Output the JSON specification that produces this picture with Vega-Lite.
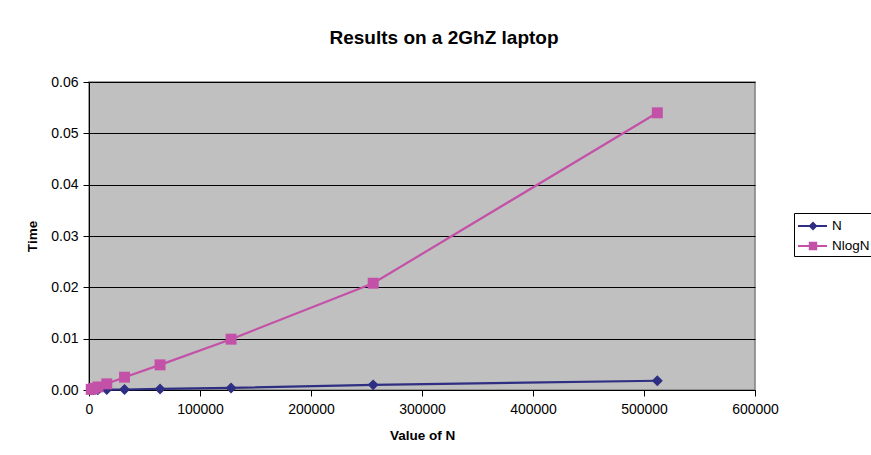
{
  "$schema": "https://vega.github.io/schema/vega-lite/v6.json",
  "width": 666,
  "height": 308,
  "autosize": {"type": "none"},
  "padding": {"left": 89, "top": 82, "right": 116, "bottom": 65},
  "background": "white",
  "title": {
    "text": "Results on a 2GhZ laptop",
    "font": "Liberation Sans",
    "fontSize": 19,
    "fontWeight": "bold",
    "color": "black",
    "anchor": "middle",
    "frame": "group",
    "dx": 22,
    "offset": 27
  },
  "data": {
    "values": [
      {"n": 2000, "series": "N", "time": 0.00002},
      {"n": 4000, "series": "N", "time": 0.00003},
      {"n": 8000, "series": "N", "time": 0.00005},
      {"n": 16000, "series": "N", "time": 0.00008},
      {"n": 32000, "series": "N", "time": 0.0001},
      {"n": 64000, "series": "N", "time": 0.0002},
      {"n": 128000, "series": "N", "time": 0.0004},
      {"n": 256000, "series": "N", "time": 0.001},
      {"n": 512000, "series": "N", "time": 0.0018},
      {"n": 2000, "series": "NlogN", "time": 0.00013},
      {"n": 4000, "series": "NlogN", "time": 0.0003},
      {"n": 8000, "series": "NlogN", "time": 0.0006},
      {"n": 16000, "series": "NlogN", "time": 0.0012},
      {"n": 32000, "series": "NlogN", "time": 0.0025},
      {"n": 64000, "series": "NlogN", "time": 0.0049},
      {"n": 128000, "series": "NlogN", "time": 0.0099},
      {"n": 256000, "series": "NlogN", "time": 0.0208},
      {"n": 512000, "series": "NlogN", "time": 0.054}
    ]
  },
  "encoding": {
    "x": {
      "field": "n",
      "type": "quantitative",
      "scale": {"domain": [0, 600000], "nice": false},
      "axis": {
        "title": "Value of N",
        "values": [0, 100000, 200000, 300000, 400000, 500000, 600000],
        "format": "d",
        "grid": false,
        "labelFlush": false,
        "domainColor": "black",
        "tickColor": "black",
        "tickSize": 6,
        "labelPadding": 6,
        "titlePadding": 12
      }
    },
    "y": {
      "field": "time",
      "type": "quantitative",
      "scale": {"domain": [0, 0.06], "nice": false},
      "axis": {
        "title": "Time",
        "values": [0, 0.01, 0.02, 0.03, 0.04, 0.05, 0.06],
        "format": ".2f",
        "grid": true,
        "labelFlush": false,
        "gridColor": "black",
        "gridOpacity": 1,
        "gridWidth": 1,
        "domainColor": "black",
        "tickColor": "black",
        "tickSize": 6,
        "labelPadding": 5,
        "titlePadding": 11
      }
    },
    "color": {
      "field": "series",
      "type": "nominal",
      "scale": {"domain": ["N", "NlogN"], "range": ["#2E2E82", "#C451A8"]},
      "legend": {
        "title": null,
        "orient": "none",
        "legendX": 705,
        "legendY": 131,
        "strokeColor": "black",
        "fillColor": "white",
        "padding": 3,
        "rowPadding": 3,
        "symbolSize": 400,
        "labelOffset": 15,
        "labelFontSize": 13.5,
        "labelFont": "Liberation Sans",
        "labelColor": "black",
        "encode": {
          "symbols": {
            "update": {
              "shape": {"signal": "datum.value == 'N' ? 'M-0.9,-0.11 H2.0 V0.11 H-0.9 Z M0.6,-0.45 L1.05,0 L0.6,0.45 L0.15,0 Z' : 'M-0.9,-0.11 H2.0 V0.11 H-0.9 Z M0.18,-0.42 H1.02 V0.42 H0.18 Z'"},
              "fill": {"scale": "color", "field": "value"},
              "fillOpacity": {"value": 1},
              "strokeWidth": {"value": 0}
            }
          }
        }
      }
    }
  },
  "layer": [
    {
      "mark": {"type": "line", "interpolate": "linear", "strokeWidth": 2.2}
    },
    {
      "mark": {"type": "point", "filled": true, "opacity": 1},
      "encoding": {
        "shape": {
          "condition": {"test": "datum.series === 'N'", "value": "diamond"},
          "value": "square"
        },
        "size": {"value": 120}
      }
    }
  ],
  "config": {
    "view": {"fill": "#C0C0C0", "stroke": "#808080", "strokeWidth": 1.5},
    "axis": {
      "labelFont": "Liberation Sans",
      "labelFontSize": 14,
      "labelColor": "black",
      "titleFont": "Liberation Sans",
      "titleFontSize": 13.5,
      "titleFontWeight": "bold",
      "titleColor": "black"
    }
  }
}
